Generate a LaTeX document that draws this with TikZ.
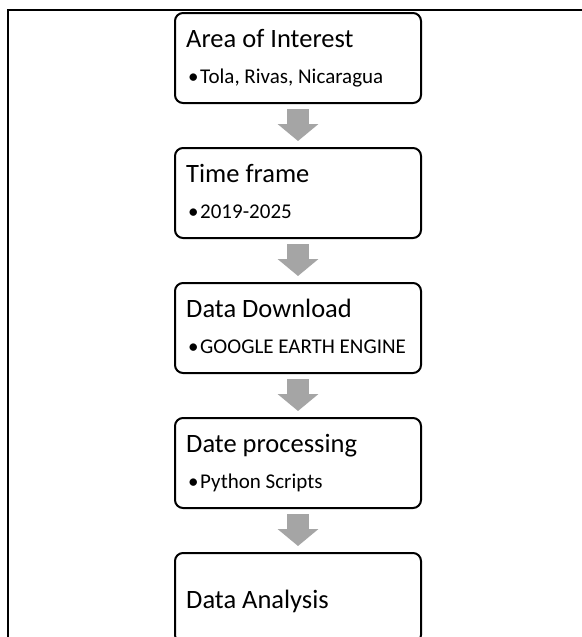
\documentclass[tikz,border=0pt]{standalone}
\usepackage{fontspec}
\setmainfont{Carlito}
\usetikzlibrary{calc,arrows.meta}
\definecolor{arrowgray}{HTML}{A5A5A5}
\tikzset{
  stepbox/.style={draw=black, line width=2pt, rounded corners=8pt, fill=white,
    minimum width=246pt, minimum height=90pt, anchor=north west, inner sep=0pt},
  titletext/.style={anchor=base west, inner sep=0pt, font=\fontsize{26.5}{30}\selectfont},
  bullettext/.style={anchor=base west, inner sep=0pt, font=\fontsize{21}{25}\selectfont},
  flowarrow/.style={draw=arrowgray, line width=22pt,
    -{Triangle[width=40pt,length=17pt,fill=arrowgray,color=arrowgray]}},
}
\begin{document}
\begin{tikzpicture}[x=1pt,y=-1pt]
\useasboundingbox (0,0) rectangle (581,637);
\fill[white] (0,0) rectangle (581,637);
% outer frame
\draw[line width=1.6pt] (8,640) -- (8,10) -- (585,10);
% boxes
\node[stepbox] (b1) at (174,12) {};
\node[stepbox] (b2) at (174,147) {};
\node[stepbox] (b3) at (174,282) {};
\node[stepbox] (b4) at (174,417) {};
\node[stepbox] (b5) at (174,552) {};
% texts
\node[titletext] (t1) at (186,47) {Area of Interest};
\node[bullettext] (d1b) at (188,83) {•};
\node[bullettext] (d1) at (200,83) {Tola, Rivas, Nicaragua};
\node[titletext] (t2) at (186,182) {Time frame};
\node[bullettext] (d2b) at (188,218) {•};
\node[bullettext] (d2) at (200,218) {2019-2025};
\node[titletext] (t3) at (186,317) {Data Download};
\node[bullettext] (d3b) at (188,353) {•};
\node[bullettext] (d3) at (200,353) {GOOGLE EARTH ENGINE};
\node[titletext] (t4) at (186,452) {Date processing};
\node[bullettext] (d4b) at (188,488) {•};
\node[bullettext] (d4) at (200,488) {Python Scripts};
\node[titletext] (t5) at (186,608) {Data Analysis};
% arrows
\draw[flowarrow] ($(b1.south)+(0,5)$) -- ($(b2.north)+(0,-6)$);
\draw[flowarrow] ($(b2.south)+(0,5)$) -- ($(b3.north)+(0,-6)$);
\draw[flowarrow] ($(b3.south)+(0,5)$) -- ($(b4.north)+(0,-6)$);
\draw[flowarrow] ($(b4.south)+(0,5)$) -- ($(b5.north)+(0,-6)$);
\end{tikzpicture}
\end{document}
